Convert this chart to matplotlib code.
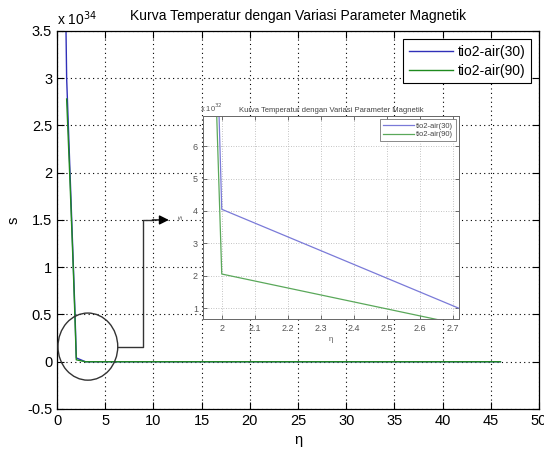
import matplotlib
matplotlib.use("Agg")
import matplotlib.pyplot as plt
from matplotlib.patches import Ellipse
from matplotlib.ticker import FuncFormatter, MultipleLocator

plt.rcParams['font.family'] = ['Liberation Sans', 'DejaVu Sans']

# profile data (s in units of 1e34 for the main plot)
SCALE = 1e34
eta_30 = [0.9, 1.0, 1.35, 1.7, 1.87, 2.0, 2.95, 46.0]
s_30 = [3.75, 3.0, 2.0, 1.0, 0.5, 0.0405, 0.0, 0.0]
eta_90 = [1.0, 1.35, 1.7, 1.86, 2.0, 2.95, 46.0]
s_90 = [2.78, 1.9, 0.95, 0.47, 0.0205, 0.0, 0.0]

labels = ['tio2-air(30)', 'tio2-air(90)']
title = 'Kurva Temperatur dengan Variasi Parameter Magnetik'
c_blue = '#3030b8'
c_green = '#1f8a1f'

fig = plt.figure(figsize=(5.44, 4.49), dpi=100)
ax = fig.add_axes([0.1048, 0.0891, 0.886, 0.842])

ax.plot(eta_30, [v * SCALE for v in s_30], color=c_blue, lw=1.0, label=labels[0])
ax.plot(eta_90, [v * SCALE for v in s_90], color=c_green, lw=1.0, label=labels[1])

ax.set_xlim(0, 50)
ax.set_ylim(-0.5 * SCALE, 3.5 * SCALE)
ax.xaxis.set_major_locator(MultipleLocator(5))
ax.yaxis.set_major_locator(MultipleLocator(0.5 * SCALE))
ax.yaxis.set_major_formatter(FuncFormatter(lambda v, p: '%g' % round(v / SCALE, 3)))
ax.tick_params(direction='in', top=True, right=True, length=5, labelsize=10.5)
ax.grid(True, color='black', linestyle=(0, (1, 3)), linewidth=0.8)
for sp in ax.spines.values():
    sp.set_linewidth(0.9)
ax.set_title(title, fontsize=10, pad=8)
ax.set_xlabel('η', fontsize=10.5, labelpad=4)
ax.set_ylabel('s', fontsize=10.5)
ax.yaxis.set_label_coords(-0.075, 0.5)
ax.text(0.0, 1.008, r'x 10$^{34}$', transform=ax.transAxes, fontsize=10, va='bottom', ha='left')
leg = ax.legend(loc='upper right', fontsize=10, frameon=True, fancybox=False,
                edgecolor='black', framealpha=1, handlelength=3.2,
                borderaxespad=0.6, handletextpad=0.3, labelspacing=0.35)
leg.get_frame().set_linewidth(0.8)

# zoom marker: circle around the knee and elbow arrow towards the inset
ax.add_patch(Ellipse((3.2, 0.16 * SCALE), 6.2, 0.71 * SCALE, fill=False,
                     edgecolor='#333333', lw=1.0, zorder=5))
ax.plot([6.33, 8.95, 8.95, 10.0], [0.156 * SCALE, 0.156 * SCALE, 1.5 * SCALE, 1.5 * SCALE],
        color='#333333', lw=1.0, zorder=5)
ax.annotate('', xy=(11.6, 1.5 * SCALE), xytext=(9.9, 1.5 * SCALE),
            arrowprops=dict(arrowstyle='-|>', color='black', lw=1.0,
                            mutation_scale=14, shrinkA=0, shrinkB=0), zorder=6)

# inset: detail near eta = 2 (s in units of 1e32)
INS = 1e32
axi = fig.add_axes([0.373, 0.2895, 0.471, 0.452])
axi.set_facecolor('white')
axi.plot(eta_30, [v * SCALE / INS for v in s_30], color='#7a7ad8', lw=0.9, label=labels[0])
axi.plot(eta_90, [v * SCALE / INS for v in s_90], color='#5aa85a', lw=0.9, label=labels[1])
axi.set_xlim(1.943, 2.718)
axi.set_ylim(0.66, 6.93)
axi.xaxis.set_major_locator(MultipleLocator(0.1))
axi.yaxis.set_major_locator(MultipleLocator(1))
axi.xaxis.set_major_formatter(FuncFormatter(lambda v, p: '%g' % round(v, 2)))
axi.tick_params(direction='in', top=True, right=True, length=3, labelsize=6.5,
                colors='#555555', width=0.6)
axi.grid(True, color='#b0b0b0', linestyle=(0, (1, 2)), linewidth=0.6)
for sp in axi.spines.values():
    sp.set_linewidth(0.7)
    sp.set_color('#666666')
axi.set_title(title, fontsize=5.5, color='#444444', pad=3)
axi.set_xlabel('η', fontsize=5.5, color='#555555', labelpad=2)
axi.set_ylabel('s', fontsize=5.5, color='#555555', labelpad=6)
axi.text(-0.01, 1.01, r'x 10$^{32}$', transform=axi.transAxes, fontsize=5.5,
         color='#555555', va='bottom', ha='left')
li = axi.legend(loc='upper right', fontsize=5.5, frameon=True, fancybox=False,
                edgecolor='#777777', framealpha=1, handlelength=4,
                borderaxespad=0.4, handletextpad=0.3, labelspacing=0.2)
li.get_frame().set_linewidth(0.6)
for t in li.get_texts():
    t.set_color('#444444')

fig.savefig('out.png', dpi=100)
